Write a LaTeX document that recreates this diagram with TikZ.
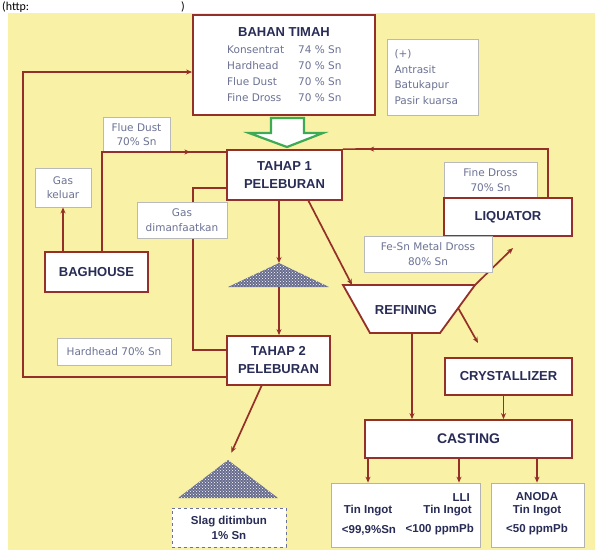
\documentclass[tikz,border=0pt]{standalone}
\usepackage{fontspec}
\setmainfont{Liberation Sans}
\newfontfamily\notefont{DejaVu Sans}
\newfontfamily\urlfont{Carlito}
\usepackage{tikz}
\usetikzlibrary{patterns,arrows.meta,decorations.markings,calc}
\definecolor{bgyellow}{RGB}{249,241,166}
\definecolor{linered}{RGB}{148,48,40}
\definecolor{navy}{RGB}{40,44,86}
\definecolor{notegray}{RGB}{108,114,148}
\definecolor{pilegray}{RGB}{104,108,142}
\definecolor{arrowgreen}{RGB}{62,170,84}

\begin{document}
\begin{tikzpicture}[x=1pt, y=-1pt,
  titletext/.style={inner sep=0pt, text=navy, align=center, font=\bfseries\fontsize{13}{18}\selectfont},
  box/.style={titletext, draw=linered, line width=1.8pt, fill=white},
  notetext/.style={inner sep=0pt, text=notegray, align=center, font=\notefont\fontsize{10.5}{14.5}\selectfont},
  notebox/.style={notetext, draw=gray!55, line width=0.8pt, fill=white},
  boldtext/.style={inner sep=0pt, text=navy, align=center, font=\bfseries\fontsize{11.5}{15}\selectfont},
  flow/.style={draw=linered, line width=1.7pt},
  arr/.style={-{Stealth[length=6pt,width=5pt]}},
  midarrow/.style={postaction={decorate}, decoration={markings, mark=at position #1 with {\arrow{Stealth[length=6pt,width=5pt]}}}}]
	\useasboundingbox (0,0) rectangle (595,550);
	\fill[bgyellow] (8,13) rectangle (595,550);
	\node[anchor=base west, inner sep=0pt, font=\urlfont\fontsize{12}{14}\selectfont] (urlL) at (2,10) {(http:};
	\node[anchor=base west, inner sep=0pt, font=\urlfont\fontsize{12}{14}\selectfont] (urlR) at (181,10) {)};

	% bahan timah
	\node[box, minimum width=182, minimum height=100] (bahan) at (284,65) {};
	\node[titletext] (bahanT) at (284,32) {BAHAN TIMAH};
	\foreach \nm/\pct [count=\i] in {Konsentrat/74, Hardhead/70, Flue Dust/70, Fine Dross/70} {
		\node[notetext, anchor=west] (rowN\i) at (227,34+16*\i) {\nm};
		\node[notetext, anchor=west] (rowP\i) at (298,34+16*\i) {\pct{} \% Sn};
	}
	\node[notebox, minimum width=91, minimum height=76, align=left, text width=76,
		font=\notefont\fontsize{10.5}{15.5}\selectfont] (addit) at (432.5,77) {(+)\\Antrasit\\Batukapur\\Pasir kuarsa};
	\draw[draw=arrowgreen, line width=2.2pt, fill=white] (271,118) -- (304,118) -- (304,133) -- (323,133)
		-- (287,147) -- (249,133) -- (271,133) -- cycle;

	% process boxes
	\node[box, minimum width=115, minimum height=50] (tahap1) at (284.5,175) {TAHAP 1\\PELEBURAN};
	\node[box, minimum width=103, minimum height=49] (tahap2) at (278.5,360.5) {TAHAP 2\\PELEBURAN};
	\node[box, minimum width=103, minimum height=40] (bag) at (96.5,272) {BAGHOUSE};
	\node[notebox, minimum width=67, minimum height=34] (flue) at (136.5,134.5) {Flue Dust\\70\% Sn};
	\node[notebox, minimum width=56, minimum height=39] (gask) at (63,187.5) {Gas\\keluar};
	\node[notebox, minimum width=114, minimum height=27] (hard) at (114,351.5) {Hardhead 70\% Sn};
	\node[notebox, minimum width=93, minimum height=36] (fine) at (490.5,180) {Fine Dross\\70\% Sn};
	\node[box, minimum width=128, minimum height=38] (liq) at (508,217) {LIQUATOR};
	\node[box, minimum width=127, minimum height=37] (crys) at (508.5,376.5) {CRYSTALLIZER};
	\node[box, minimum width=207, minimum height=38, font=\bfseries\fontsize{14}{18}\selectfont] (casting) at (468.5,439) {CASTING};

	% refining
	\coordinate (rfTL) at (343,285);
	\coordinate (rfTR) at (475,285);
	\coordinate (rfBR) at (440,333);
	\coordinate (rfBL) at (370,333);
	\draw[draw=linered, line width=1.8pt, fill=white] (rfTL) -- (rfTR) -- (rfBR) -- (rfBL) -- cycle;
	\node[titletext] (refining) at (406,310) {REFINING};

	% products
	\node[draw=gray!60, line width=0.8pt, fill=white, minimum width=149, minimum height=64] (outL) at (405.5,515) {};
	\node[draw=gray!60, line width=0.8pt, fill=white, minimum width=93, minimum height=64] (outR) at (537.5,515) {};
	\node[boldtext, anchor=east] (lli) at (470,498) {LLI};
	\node[boldtext] (ingotA) at (368,511) {Tin Ingot};
	\node[boldtext, anchor=east] (ingotB) at (472,511) {Tin Ingot};
	\node[boldtext] (snA) at (369,530) {<99,9\%Sn};
	\node[boldtext, anchor=east] (pbA) at (474,530) {<100 ppmPb};
	\node[boldtext] (anoda) at (537,497) {ANODA};
	\node[boldtext] (ingotC) at (537,511) {Tin Ingot};
	\node[boldtext] (pbB) at (537,530) {<50 ppmPb};

	% slag piles
	\coordinate (tri1) at (279,263);
	\coordinate (tri1b) at (279,287);
	\coordinate (tri2) at (228,460);
	\fill[pilegray] (tri1) -- (228,287) -- (329,287) -- cycle;
	\fill[pattern=crosshatch dots, pattern color=white] (tri1) -- (228,287) -- (329,287) -- cycle;
	\fill[pilegray] (tri2) -- (178,498) -- (278,498) -- cycle;
	\fill[pattern=crosshatch dots, pattern color=white] (tri2) -- (178,498) -- (278,498) -- cycle;
	\node[boldtext, draw=notegray, dashed, line width=0.8pt, fill=white, minimum width=114, minimum height=39] (slag) at (229,527.5) {Slag ditimbun\\1\% Sn};

	% connectors
	\coordinate (loopB) at (23,377);
	\coordinate (loopT) at (23,72);
	\draw[flow, arr] (tahap2.west |- loopB) -- (loopB) -- (loopT) -- (bahan.west |- loopT);
	\coordinate (gasT) at (193,188);
	\coordinate (gasB) at (193,350);
	\draw[flow] (tahap1.west |- gasT) -- (gasT) -- (gasB) -- (tahap2.west |- gasB);
	\coordinate (flueC) at (102,152);
	\draw[flow, midarrow=0.84] (bag.north -| flueC) -- (flueC) -- (tahap1.west |- flueC);
	\draw[flow, arr] (bag.north -| gask.south) -- (gask.south);
	\coordinate (liqC) at (548,149);
	\draw[flow, midarrow=0.9] (liq.north -| liqC) -- (liqC) -- (tahap1.north east);
	\draw[flow, arr] (tahap1.south -| tri1) -- (tri1);
	\draw[flow, arr] (tri1b) -- (tahap2.north -| tri1b);
	\draw[flow, arr] ($(tahap1.south)+(24,0)$) -- ($(rfTL)+(9,0)$);
	\coordinate (rfOut) at ($(rfBL)!0.6!(rfBR)$);
	\draw[flow, arr] (rfOut) -- (casting.north -| rfOut);
	\coordinate (crysIn) at (478,343);
	\draw[flow, arr] ($(rfTR)!0.48!(rfBR)$) -- (crysIn);
	\coordinate (liqIn) at (513,248);
	\draw[flow, arr] (rfTR) -- (liqIn);
	\coordinate (crysOut) at ([xshift=-5pt]crys.south);
	\draw[flow, arr] (crysOut) -- (casting.north -| crysOut);
	\foreach \x in {368,459,537}
		\draw[flow, arr] (casting.south -| \x,0) -- (outL.north -| \x,0);
	\draw[flow, arr, shorten >=8pt] ($(tahap2.south)+(-17,0)$) -- (tri2);

	% labels over the lines
	\node[notebox, minimum width=90, minimum height=36] (gasm) at (182,220) {Gas\\dimanfaatkan};
	\node[notebox, minimum width=128, minimum height=36] (fesn) at (428,254) {Fe-Sn Metal Dross\\80\% Sn};
\end{tikzpicture}
\end{document}
